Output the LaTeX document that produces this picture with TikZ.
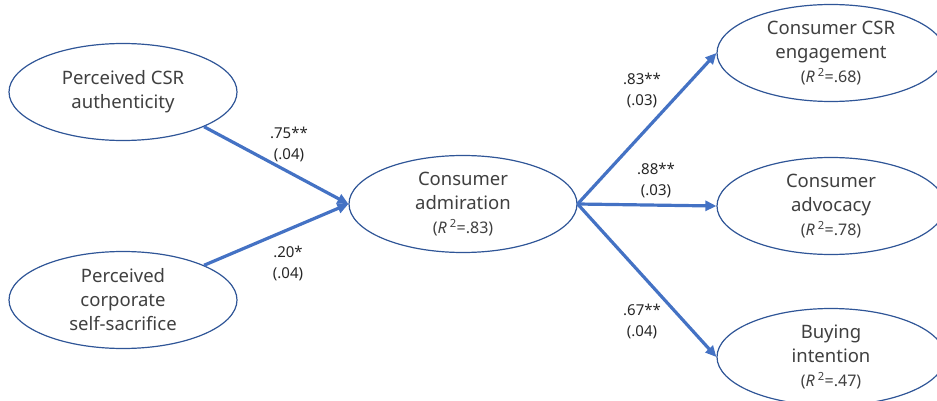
\documentclass[tikz,border=0pt]{standalone}
\usepackage{fontspec}
\setmainfont{Noto Sans}
\usetikzlibrary{shapes.geometric,arrows.meta}
\definecolor{ebord}{HTML}{2F5597}
\definecolor{arr}{HTML}{4472C4}
\definecolor{txt}{HTML}{404040}
\newcommand{\rsq}[1]{{\fontsize{16}{22}\selectfont(\textit{R}\hspace{3pt}\textsuperscript{2}=#1)}}
\begin{document}
\begin{tikzpicture}[x=1pt,y=-1pt,
  var/.style={ellipse,draw=ebord,line width=1.2pt,fill=white,minimum width=228pt,
    minimum height=97pt,inner sep=0pt,align=center,text=txt,
    font=\fontsize{18.5}{24}\selectfont},
  conn/.style={draw=arr,line width=3.2pt,-{Triangle[length=11pt,width=10pt]}},
  lab/.style={align=center,text=black!85,font=\fontsize{15}{21}\selectfont}]
\useasboundingbox (0,0) rectangle (937,401);
\begin{scope}
\clip (0,0) rectangle (937,401);
\node[var] (auth) at (123,92) {Perceived CSR\\authenticity};
\node[var] (sac) at (123,300) {Perceived\\corporate\\self-sacrifice};
\node[var] (adm) at (463,204) {Consumer\\admiration\\\rsq{.83}};
\node[var] (eng) at (831,53) {Consumer CSR\\engagement\\\rsq{.68}};
\node[var] (adv) at (831,206) {Consumer\\advocacy\\\rsq{.78}};
\node[var] (buy) at (831,357) {Buying\\intention\\\rsq{.47}};
\end{scope}
\draw[conn] (auth.south east) -- (adm.west);
\draw[conn] (sac.north east) -- (adm.west);
\draw[conn] (adm.east) -- (eng.west);
\draw[conn] (adm.east) -- (adv.west);
\draw[conn] (adm.east) -- (buy.west);
\node[lab] (l1) at (289,144) {.75**\\(.04)};
\node[lab] (l2) at (288,263) {.20*\\(.04)};
\node[lab] (l3) at (642,90) {.83**\\(.03)};
\node[lab] (l4) at (656,180) {.88**\\(.03)};
\node[lab] (l5) at (642,321) {.67**\\(.04)};
\end{tikzpicture}
\end{document}
